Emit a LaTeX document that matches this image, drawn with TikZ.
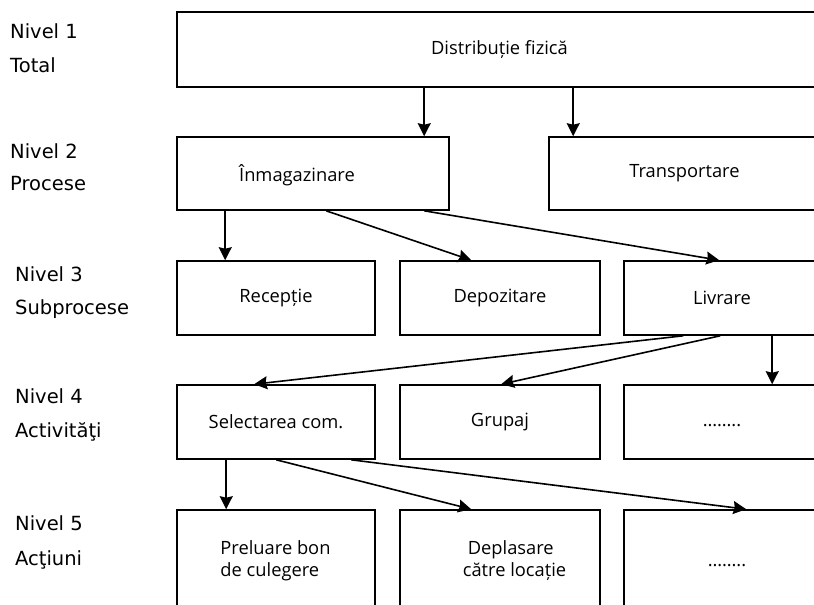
\documentclass[tikz,border=0pt]{standalone}
\usepackage{fontspec}
\setmainfont{Open Sans}
\newfontfamily\labfont{DejaVu Sans}
\usetikzlibrary{arrows.meta}
\begin{document}
\begin{tikzpicture}[x=1pt,y=-1pt,
  box/.style={draw, line width=1.6pt, inner sep=0pt, font=\fontsize{18.3}{22}\selectfont},
  txt/.style={inner sep=0pt, font=\fontsize{18.3}{22}\selectfont},
  arr/.style={line width=1.6pt, -{Stealth[length=13pt,width=13pt,inset=1.5pt]}},
  lab/.style={anchor=base west, inner sep=0pt, font=\labfont\fontsize{19.5}{22}\selectfont}]
\useasboundingbox (0,0) rectangle (814,605);
\clip (0,0) rectangle (814,605);
\fill[white] (0,0) rectangle (814,605);

% level labels
\node[lab] (n1) at (10,38) {Nivel 1};
\node[lab] (t1) at (10,72) {Total};
\node[lab] (n2) at (10,158) {Nivel 2};
\node[lab] (t2) at (10,190) {Procese};
\node[lab] (n3) at (15,281) {Nivel 3};
\node[lab] (t3) at (15,314) {Subprocese};
\node[lab] (n4) at (15,403) {Nivel 4};
\node[lab] (t4) at (15,437) {Activităţi};
\node[lab] (n5) at (15,530) {Nivel 5};
\node[lab] (t5) at (15,565) {Acţiuni};

% level 1
\node[box, minimum width=645pt, minimum height=75pt] (top) at (499.5,49.5) {Distribuție fizică};
% level 2
\node[box, minimum width=272pt, minimum height=73pt] (inm) at (313,173.5) {};
\node[txt] (inmt) at (297,175) {Înmagazinare};
\node[box, minimum width=271pt, minimum height=73pt] (trans) at (684.5,173.5) {Transportare};
% level 3
\node[box, minimum width=198pt, minimum height=74pt] (rec) at (276,298) {Recepție};
\node[box, minimum width=200pt, minimum height=74pt] (dep) at (500,298) {Depozitare};
\node[box, minimum width=196pt, minimum height=74pt] (liv) at (722,298) {Livrare};
% level 4
\node[box, minimum width=198pt, minimum height=74pt] (sel) at (276,422) {Selectarea com.};
\node[box, minimum width=200pt, minimum height=74pt] (grup) at (500,422) {Grupaj};
\node[box, minimum width=196pt, minimum height=74pt] (d4) at (722,422) {\vphantom{Ag}……..};
% level 5
\node[box, minimum width=198pt, minimum height=102pt] (prel) at (276,561) {};
\node[txt, align=left] (prelt) at (275.5,561) {Preluare bon\\de culegere};
\node[box, minimum width=200pt, minimum height=102pt] (depl) at (500,561) {};
\node[txt, align=left] (deplt) at (514.5,561) {\hspace*{5pt}Deplasare\\către locație};
\node[box, minimum width=196pt, minimum height=102pt] (d5) at (722,561) {};
\node[txt] (d5t) at (727,562) {\vphantom{Ag}……..};

% connectors
\draw[arr] ([xshift=248pt]top.south west) -- ([xshift=248pt]inm.north west);
\draw[arr] ([xshift=397pt]top.south west) -- ([xshift=25pt]trans.north west);
\draw[arr] ([xshift=49pt]inm.south west) -- ([xshift=49pt]rec.north west);
\draw[arr] ([xshift=150pt]inm.south west) -- ([xshift=72pt]dep.north west);
\draw[arr] ([xshift=248pt]inm.south west) -- ([xshift=96pt]liv.north west);
\draw[arr] ([xshift=60pt]liv.south west) -- ([xshift=78pt]sel.north west);
\draw[arr] ([xshift=97pt]liv.south west) -- ([xshift=102pt]grup.north west);
\draw[arr] ([xshift=149pt]liv.south west) -- ([xshift=149pt]d4.north west);
\draw[arr] ([xshift=50pt]sel.south west) -- ([xshift=50pt]prel.north west);
\draw[arr] ([xshift=100pt]sel.south west) -- ([xshift=72pt]depl.north west);
\draw[arr] ([xshift=175pt]sel.south west) -- ([xshift=123pt]d5.north west);
\end{tikzpicture}
\end{document}
